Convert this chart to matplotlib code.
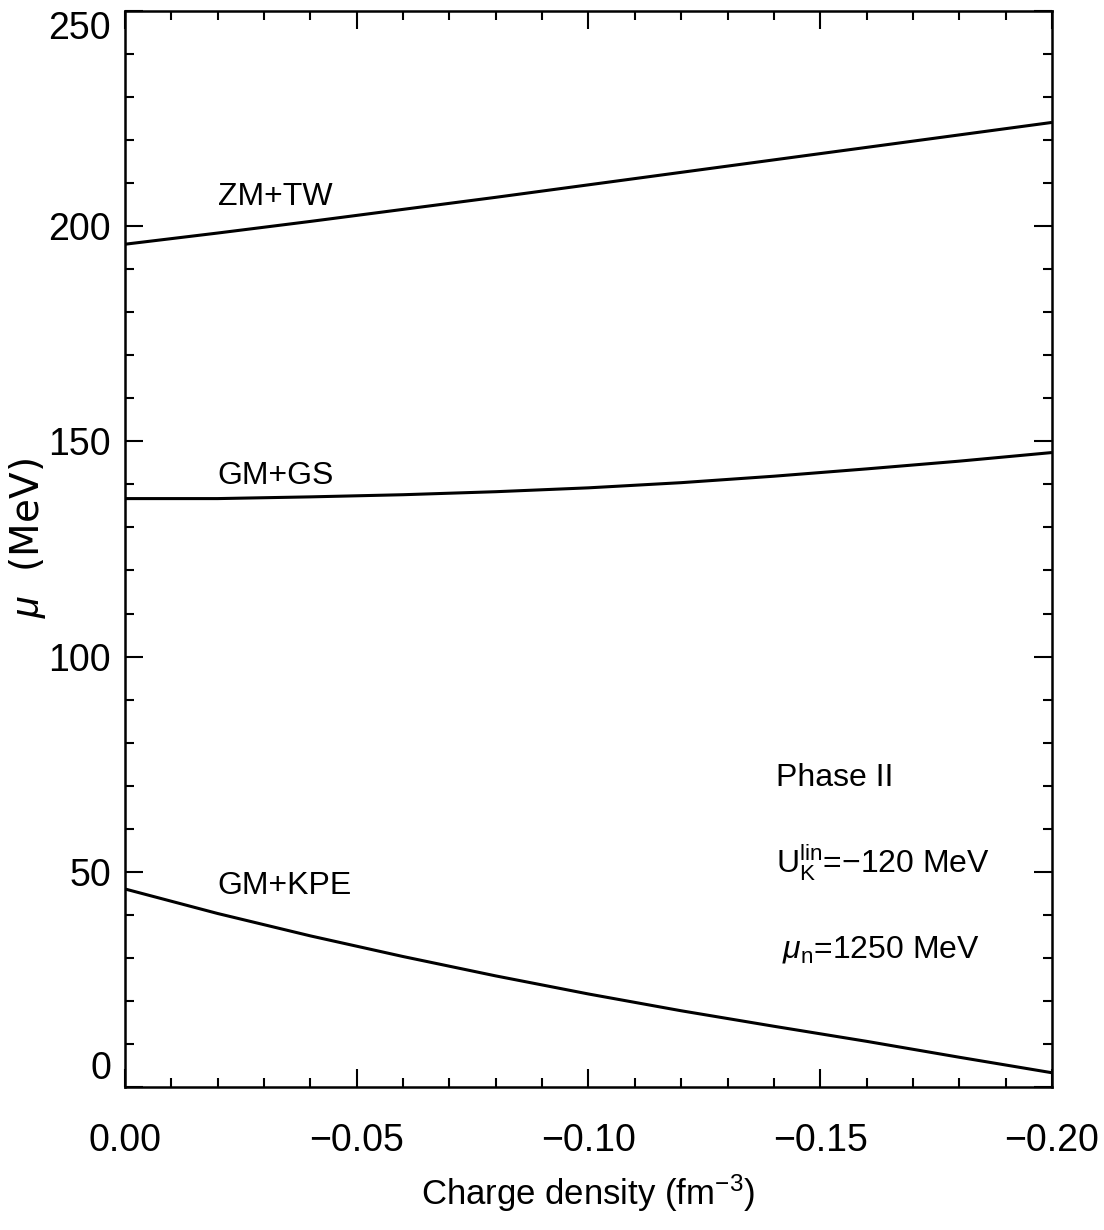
import matplotlib
matplotlib.use("Agg")
import matplotlib.pyplot as plt
from matplotlib.ticker import MultipleLocator, FuncFormatter

# charge density (fm^-3) and kaon chemical potential (MeV) for the three models
rho = [0.0, -0.02, -0.04, -0.06, -0.08, -0.10, -0.12, -0.14, -0.16, -0.18, -0.20]
mu_zm_tw = [195.8, 198.4, 201.1, 203.9, 206.7, 209.6, 212.5, 215.4, 218.3, 221.2, 224.1]
mu_gm_gs = [136.7, 136.7, 137.1, 137.6, 138.3, 139.2, 140.4, 141.9, 143.6, 145.4, 147.4]
mu_gm_kpe = [46.0, 40.3, 35.1, 30.3, 25.8, 21.6, 17.7, 14.1, 10.6, 6.9, 3.3]

curve_names = ["ZM+TW", "GM+GS", "GM+KPE"]
name_pos = [(-0.020, 205.0), (-0.020, 140.0), (-0.020, 44.9)]

y_ticks = [0, 50, 100, 150, 200, 250]
x_ticks = [0.0, -0.05, -0.10, -0.15, -0.20]

plt.rcParams["font.family"] = ["Liberation Sans", "DejaVu Sans"]
plt.rcParams["mathtext.fontset"] = "custom"
plt.rcParams["mathtext.rm"] = "Liberation Sans"
plt.rcParams["mathtext.it"] = "Liberation Sans:italic"

fig = plt.figure(figsize=(11.04, 12.30), dpi=100)
ax = fig.add_axes([0.1132, 0.1163, 0.8397, 0.8748])

for ys in (mu_zm_tw, mu_gm_gs, mu_gm_kpe):
    ax.plot(rho, ys, color="black", lw=2.2, solid_capstyle="butt", solid_joinstyle="round")

for name, (tx, ty) in zip(curve_names, name_pos):
    ax.text(tx, ty, name, fontsize=23, ha="left", va="baseline")

ax.text(-0.1404, 70.0, "Phase II", fontsize=23, ha="left", va="baseline")
ax.text(-0.1404, 49.8, r"U$_\mathrm{K}^\mathrm{lin}$=$-$120 MeV", fontsize=23, ha="left", va="baseline")
ax.text(-0.1418, 30.1, r"$\mu_\mathrm{n}$=1250 MeV", fontsize=23, ha="left", va="baseline")

ax.set_xlim(0.0, -0.2)
ax.set_ylim(0, 250)

ax.set_xticks(x_ticks)
ax.set_yticks(y_ticks)
ax.xaxis.set_minor_locator(MultipleLocator(0.01))
ax.yaxis.set_minor_locator(MultipleLocator(10))
ax.xaxis.set_major_formatter(FuncFormatter(lambda v, p: ("%.2f" % v).replace("-", "\u2212")))
ax.yaxis.set_major_formatter(FuncFormatter(lambda v, p: "%d" % round(v)))

ax.tick_params(which="both", direction="in", top=True, right=True, width=1.5)
ax.tick_params(which="major", length=13)
ax.tick_params(which="minor", length=6.5)
ax.tick_params(axis="x", which="major", pad=26, labelsize=27)
ax.tick_params(axis="y", which="major", pad=10, labelsize=27)

# keep the end labels of the y axis inside the frame
fig.canvas.draw()
ylabels = ax.get_yticklabels()
ylabels[0].set_va("bottom")
ylabels[-1].set_va("top")

for sp in ax.spines.values():
    sp.set_linewidth(1.8)

ax.set_xlabel(r"Charge density (fm$^{-3}$)", fontsize=25, labelpad=10)
ax.set_ylabel(r"$\mu$  (MeV)", fontsize=28, family="DejaVu Sans")
ax.yaxis.set_label_coords(-0.083, 0.51)

fig.savefig("out.png", dpi=100)
